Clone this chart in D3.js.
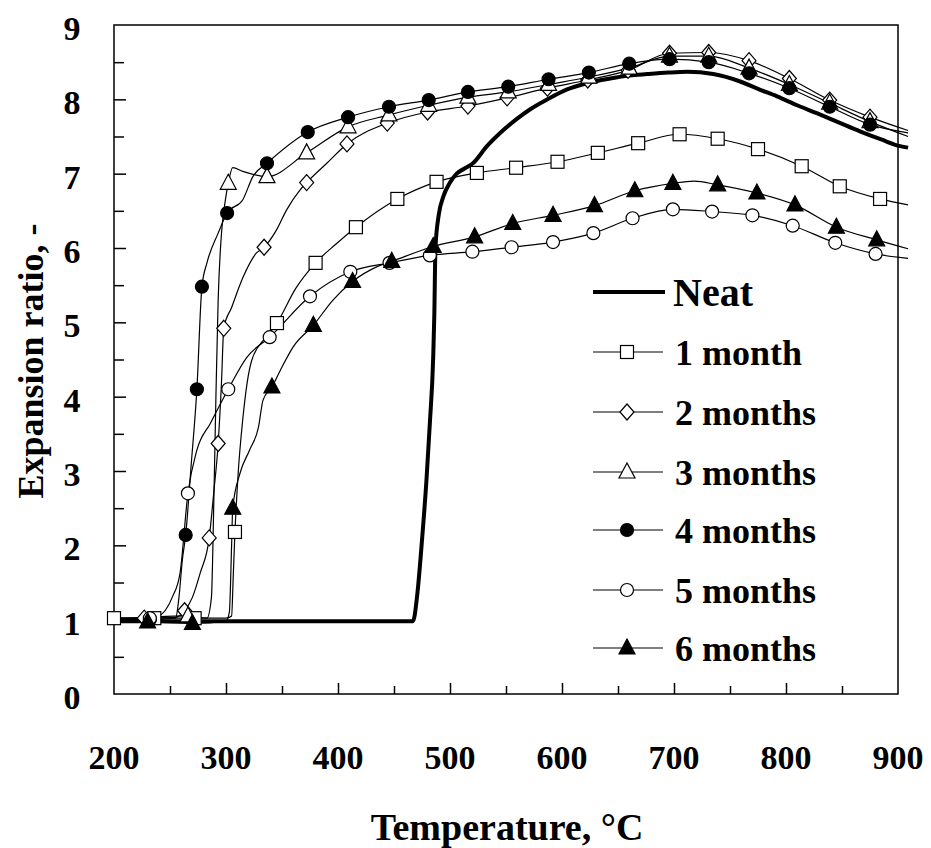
<!DOCTYPE html>
<html>
    <head>
        <meta charset="utf-8">
        <title>expansion ratio</title>
        <script src="https://d3js.org/d3.v7.min.js"></script>
        <style>
            body { margin: 0; background: white; }
            text { font-family: "Liberation Serif", "Times New Roman", serif; font-weight: bold; fill: black; }
        </style>
    </head>
    <body>
    <script type="text/javascript">
    //temperature / expansion ratio readings, [T, ratio]
    var neatLine = [[200,0.98],[467,0.98],[470.5,1.3],[475,2.07],[479,2.88],[482,3.64],[485,4.53],[486,5.1],[487,6.0],
        [490,6.45],[494,6.69],[500,6.88],[506,7.0],[513,7.07],[520.5,7.14],[533,7.37],[545,7.55],[560,7.74],[571,7.86],
        [587,8.0],[604,8.13],[623,8.22],[643,8.28],[660,8.32],[676,8.34],[695,8.36],[712,8.37],[735,8.34],[759,8.24],
        [775,8.14],[792,8.04],[810,7.92],[828,7.81],[847,7.69],[866,7.57],[885,7.46],[902,7.37],[909,7.35]];

    var m1Marks = [[200,1.02],[236,1.02],[272,1.02],[308,2.18],[345.5,4.99],[380,5.80],[416,6.28],[453,6.66],[488,6.89],
        [524,7.01],[559,7.08],[596,7.16],[632,7.28],[668,7.41],[705,7.53],[739,7.47],[775,7.33],[814,7.10],[848,6.83],[884,6.66]];
    var m1Line = [[300,1.02],[305,1.05],[306.5,1.6],[311,3.0],[315,3.7],[319,4.2],[323,4.49],[335,4.79],[362,5.45],[398,6.05],[909,6.58]];

    var m2Marks = [[227,1.02],[263,1.12],[285,2.1],[293,3.37],[298,4.92],[334,6.01],[372,6.88],[408,7.40],[444,7.68],
        [480,7.83],[516,7.91],[551,8.02],[587,8.15],[623,8.26],[659,8.39],[696,8.62],[731,8.63],[767,8.52],[803,8.28],[839,7.99],[875,7.76]];
    var m2Line = [[200,1.02],[255,1.03],[270,1.3],[277,1.63],[289,2.7],[296,4.2],[305,5.2],[315,5.6],[327,5.93],[345,6.24],
        [354,6.51],[366,6.78],[390,7.14],[909,7.58]];

    var m3Marks = [[266,1.05],[302,6.87],[336.6,6.96],[372,7.28],[409,7.63],[445.5,7.79],[481,7.92],[516,8.03],[552,8.10],
        [588,8.20],[624,8.30],[660,8.42],[696,8.58],[731,8.58],[767,8.42],[803,8.20],[839,7.95],[875,7.70]];
    var m3Line = [[200,1.0],[283,1.02],[287,1.3],[289,2.5],[291,4.0],[293,5.3],[296,6.2],[299,6.6],[306,7.08],[315,7.03],[909,7.5]];

    var m4Marks = [[232,1.0],[264,2.14],[274,4.10],[278.5,5.48],[301,6.47],[336.6,7.14],[373,7.56],[409,7.76],[445.5,7.90],
        [481,7.99],[516,8.10],[552,8.17],[588,8.27],[624,8.36],[660,8.48],[696,8.54],[731,8.50],[767,8.35],[803,8.15],[839,7.90],[875,7.66]];
    var m4Line = [[200,1.0],[255,1.02],[258,1.3],[261,1.8],[269,3.1],[283,5.8],[293,6.2],[315,6.65],[324,6.96],[909,7.55]];

    var m5Marks = [[232,1.02],[266,2.70],[302,4.10],[339,4.80],[375,5.35],[411,5.68],[446,5.80],[482,5.90],[520,5.95],
        [555,6.01],[592,6.08],[628,6.20],[663,6.40],[699,6.52],[734,6.49],[770,6.44],[806,6.30],[844,6.07],[880,5.92]];
    var m5Line = [[200,1.02],[239,1.04],[252,1.3],[259,1.63],[274,3.28],[286,3.64],[318.6,4.53],[909,5.86]];

    var m6Marks = [[230,0.97],[270,0.95],[306,2.50],[341,4.13],[378,4.96],[413,5.55],[448,5.82],[485,6.02],[522,6.15],
        [556,6.33],[592,6.44],[629,6.57],[665,6.77],[699,6.87],[739,6.85],[774,6.74],[808,6.58],[845,6.28],[881,6.11]];
    var m6Line = [[200,0.98],[300,0.98],[303,1.1],[305,2.0],[312.5,2.97],[321,3.28],[329,3.59],[333,3.95],[350,4.4],
        [360,4.67],[395.5,5.3],[435,5.75],[718,6.9],[909,5.99]];

    var seriesNames = ["Neat", "1 month", "2 months", "3 months", "4 months", "5 months", "6 months"];
    var xTicks = [200, 300, 400, 500, 600, 700, 800, 900];
    var yTicks = [0, 1, 2, 3, 4, 5, 6, 7, 8, 9];

    var size = {width: 931, height: 848};
    var plot = {left: 114, right: 898, top: 25, bottom: 694};

    var x = d3.scaleLinear().domain([200, 900]).range([plot.left, plot.right]);
    var y = d3.scaleLinear().domain([0, 9]).range([plot.bottom, plot.top]);

    var _svg = d3.select("body").append("svg")
        .attr("width", size.width)
        .attr("height", size.height);

    //series table: line points, marker points, marker kind
    var series = [
        {name: seriesNames[1], line: m1Line, marks: m1Marks, kind: "square"},
        {name: seriesNames[2], line: m2Line, marks: m2Marks, kind: "diamond"},
        {name: seriesNames[3], line: m3Line, marks: m3Marks, kind: "triangleOpen"},
        {name: seriesNames[4], line: m4Line, marks: m4Marks, kind: "circleFill"},
        {name: seriesNames[5], line: m5Line, marks: m5Marks, kind: "circleOpen"},
        {name: seriesNames[6], line: m6Line, marks: m6Marks, kind: "triangleFill"}
    ];

    //frame
    _svg.append("rect")
        .attr("x", plot.left).attr("y", plot.top)
        .attr("width", plot.right - plot.left).attr("height", plot.bottom - plot.top)
        .attr("fill", "none").attr("stroke", "black").attr("stroke-width", 1.5);

    //y axis, inward ticks every 0.5 (integers a bit longer)
    var yAxis = d3.axisLeft(y).tickValues(d3.range(0.5, 9, 0.5)).tickFormat("");
    var gy = _svg.append("g").attr("transform", "translate(" + plot.left + ",0)").call(yAxis);
    gy.select(".domain").remove();
    gy.selectAll(".tick line")
        .attr("x2", function(d){ return d % 1 == 0 ? 12 : 10; })
        .attr("stroke-width", 1.5);

    _svg.append("g").selectAll("text")
        .data(yTicks).enter().append("text")
        .attr("x", 72).attr("y", function(d){ return y(d) + 3; })
        .attr("dy", "0.35em").attr("text-anchor", "middle")
        .attr("font-size", 34)
        .text(function(d){ return d; });

    //x axis, inward ticks every 50 (hundreds a bit longer)
    var xAxis = d3.axisBottom(x).tickValues(d3.range(250, 900, 50)).tickFormat("");
    var gx = _svg.append("g").attr("transform", "translate(0," + plot.bottom + ")").call(xAxis);
    gx.select(".domain").remove();
    gx.selectAll(".tick line")
        .attr("y2", function(d){ return d % 100 == 0 ? -11 : -8; })
        .attr("stroke-width", 1.5);

    _svg.append("g").selectAll("text")
        .data(xTicks).enter().append("text")
        .attr("x", function(d){ return x(d); }).attr("y", 757)
        .attr("dy", "0.35em").attr("text-anchor", "middle")
        .attr("font-size", 34)
        .text(function(d){ return d; });

    //axis titles
    _svg.append("text")
        .attr("x", 507).attr("y", 827).attr("dy", "0.35em")
        .attr("text-anchor", "middle").attr("font-size", 38)
        .text("Temperature, \u00B0C");

    _svg.append("text")
        .attr("transform", "translate(30,361) rotate(-90)")
        .attr("dy", "0.35em")
        .attr("text-anchor", "middle").attr("font-size", 36)
        .text("Expansion ratio, -");

    //lines
    var line = d3.line()
        .x(function(d){ return x(d[0]); })
        .y(function(d){ return y(d[1]); })
        .curve(d3.curveMonotoneX);

    _svg.append("path")
        .attr("d", line(neatLine))
        .attr("fill", "none").attr("stroke", "black").attr("stroke-width", 4);

    series.forEach(function(s){
        var pts = s.line.concat(s.marks).sort(function(a, b){ return a[0] - b[0]; });
        _svg.append("path")
            .attr("d", line(pts))
            .attr("fill", "none").attr("stroke", "black").attr("stroke-width", 1.2);
    });

    series.forEach(function(s){
        var g = _svg.append("g");
        s.marks.forEach(function(d){ drawMarker(g, s.kind, x(d[0]), y(d[1])); });
    });

    //legend
    var legendRows = [292, 352, 412, 472, 530, 590, 648];
    var lg = _svg.append("g");
    lg.append("line")
        .attr("x1", 593).attr("x2", 665).attr("y1", legendRows[0]).attr("y2", legendRows[0])
        .attr("stroke", "black").attr("stroke-width", 4);
    lg.append("text")
        .attr("x", 673).attr("y", legendRows[0]).attr("dy", "0.35em")
        .attr("font-size", 40).text(seriesNames[0]);

    series.forEach(function(s, i){
        var ry = legendRows[i + 1];
        lg.append("line")
            .attr("x1", 593).attr("x2", 663).attr("y1", ry).attr("y2", ry)
            .attr("stroke", "black").attr("stroke-width", 1.2);
        drawMarker(lg, s.kind, 627, ry);
        lg.append("text")
            .attr("x", 675).attr("y", ry).attr("dy", "0.35em")
            .attr("font-size", 36).text(s.name);
    });

    //auxiliary functions
    //draws one marker of the given kind centred at cx, cy
    function drawMarker(g, kind, cx, cy){
        var open = (kind == "square" || kind == "diamond" || kind == "triangleOpen" || kind == "circleOpen");
        var fill = open ? "white" : "black";
        var el;
        if(kind == "square"){
            el = g.append("rect").attr("x", cx - 6.5).attr("y", cy - 6.5).attr("width", 13).attr("height", 13);
        } else if(kind == "diamond"){
            el = g.append("path").attr("d", "M" + cx + "," + (cy - 8) + "L" + (cx + 7) + "," + cy +
                "L" + cx + "," + (cy + 8) + "L" + (cx - 7) + "," + cy + "Z");
        } else if(kind == "triangleOpen" || kind == "triangleFill"){
            el = g.append("path").attr("d", "M" + cx + "," + (cy - 9) + "L" + (cx + 8) + "," + (cy + 6) +
                "L" + (cx - 8) + "," + (cy + 6) + "Z");
        } else {
            el = g.append("circle").attr("cx", cx).attr("cy", cy).attr("r", 6.5);
        }
        el.attr("fill", fill).attr("stroke", "black").attr("stroke-width", 1.2);
    }
    </script>
    </body>
</html>
